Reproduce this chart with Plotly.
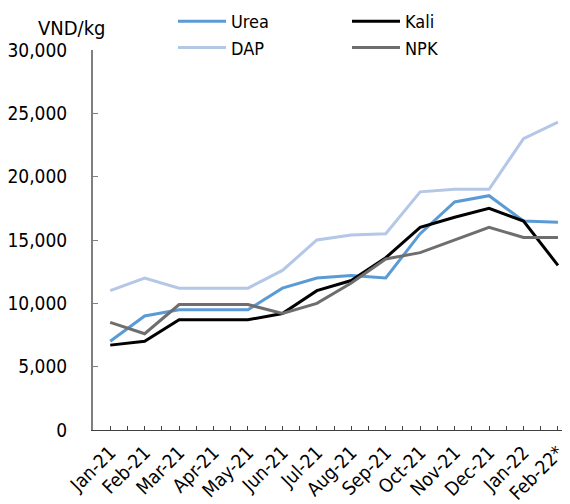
import plotly.graph_objects as go

months = ["Jan-21", "Feb-21", "Mar-21", "Apr-21", "May-21", "Jun-21", "Jul-21",
          "Aug-21", "Sep-21", "Oct-21", "Nov-21", "Dec-21", "Jan-22", "Feb-22*"]
urea = [7000, 9000, 9500, 9500, 9500, 11200, 12000, 12200, 12000, 15500, 18000, 18500, 16500, 16400]
kali = [6700, 7000, 8700, 8700, 8700, 9200, 11000, 11800, 13600, 16000, 16800, 17500, 16500, 13000]
dap = [11000, 12000, 11200, 11200, 11200, 12600, 15000, 15400, 15500, 18800, 19000, 19000, 23000, 24300]
npk = [8500, 7600, 9900, 9900, 9900, 9200, 10000, 11600, 13500, 14000, 15000, 16000, 15200, 15200]
y_ticks = [0, 5000, 10000, 15000, 20000, 25000, 30000]

FONT = "DejaVu Sans Condensed"
x = list(range(len(months)))

series = [
    ("Urea", urea, "#5B9BD5"),
    ("Kali", kali, "#000000"),
    ("DAP", dap, "#B4C7E7"),
    ("NPK", npk, "#6E6E6E"),
]

fig = go.Figure()
for name, vals, col in series:
    fig.add_trace(go.Scatter(x=x, y=vals, name=name, mode="lines",
                             line=dict(color=col, width=3)))

# page body adds an 8px margin, so the figure is 562x496 and offsets are shifted by 8
fig.update_layout(
    width=562, height=496,
    margin=dict(l=85, r=0, t=42, b=74, autoexpand=False),
    plot_bgcolor="white", paper_bgcolor="white",
    font=dict(family=FONT, size=19, color="black"),
    showlegend=True,
    legend=dict(orientation="h", xref="container", yref="paper",
                x=165/562, y=1 + 47/380, xanchor="left", yanchor="top",
                entrywidth=111, entrywidthmode="pixels", itemwidth=48,
                bgcolor="rgba(0,0,0,0)",
                font=dict(family=FONT, size=18, color="black"),
                tracegroupgap=0, traceorder="normal"),
    annotations=[dict(text="VND/kg", xref="paper", yref="paper", x=0, y=1,
                      xanchor="right", yanchor="bottom", xshift=15, yshift=8,
                      showarrow=False, font=dict(family=FONT, size=20, color="black"))],
)

fig.update_xaxes(
    range=[-0.5, 13.35], tickmode="array", tickvals=x, ticktext=months,
    tickangle=-45, ticks="inside", ticklen=4, tickcolor="#404040",
    showline=True, linecolor="#404040", linewidth=1, showgrid=False, zeroline=False,
    automargin=False, ticklabelstandoff=3,
    minor=dict(tickmode="array", tickvals=[i - 0.5 for i in range(len(months) + 1)],
               ticks="inside", ticklen=4, tickcolor="#404040", showgrid=False),
    tickfont=dict(family=FONT, size=19, color="black"),
)
fig.update_yaxes(
    range=[0, 30000], tickmode="array", tickvals=y_ticks,
    ticktext=[f"{v:,}" for v in y_ticks],
    ticks="inside", ticklen=5, tickcolor="#808080",
    showline=True, linecolor="#808080", linewidth=2, showgrid=False, zeroline=False,
    ticklabelstandoff=20, automargin=False,
    tickfont=dict(family=FONT, size=19, color="black"),
)

fig.write_html("out.html")
